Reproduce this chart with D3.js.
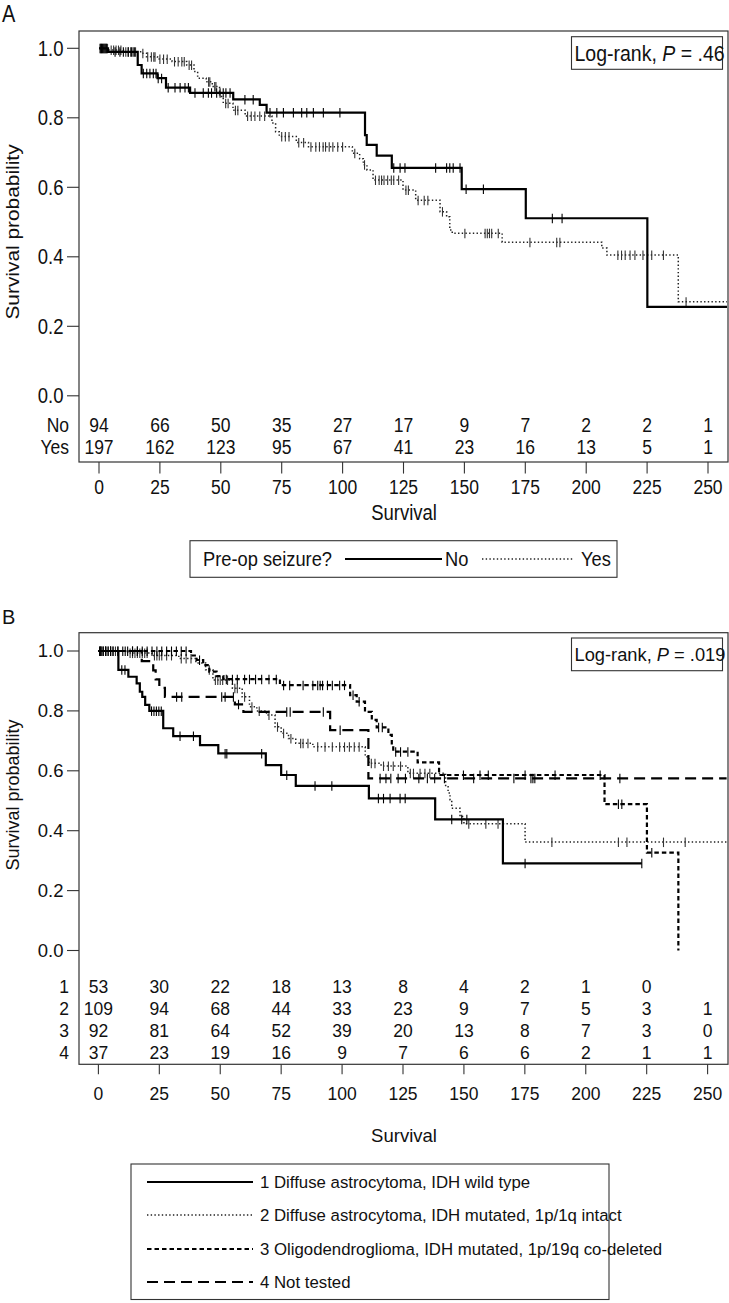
<!DOCTYPE html>
<html><head><meta charset="utf-8">
<script src="https://cdn.jsdelivr.net/npm/d3@7"></script>
<style>body{margin:0;background:#fff;} text{font-family:"Liberation Sans",Arial,sans-serif;fill:#111;}</style>
</head><body><div id="chart"></div>
<script>
// ---------- data ----------
const timeTicks = [0,25,50,75,100,125,150,175,200,225,250];
const survTicks = [0,0.2,0.4,0.6,0.8,1.0];

// Panel A: pre-op seizure
const aNoTimes = [0,3.7,15.9,17.5,24.0,27.5,37.4,55.1,66.0,68.8,109.2,109.9,114.0,120.2,148.9,175.2,225.1];
const aNoSurv  = [1,0.99,0.952,0.928,0.914,0.887,0.872,0.853,0.837,0.815,0.750,0.722,0.691,0.656,0.595,0.511,0.256];
const aNoCens  = [0.5,1,1.5,2,2.5,3,6.6,8.6,10,12,13.4,14.5,18.2,19.6,20.9,22.3,23.4,24.3,25.7,28.4,31.2,33.3,35.3,36.7,39.4,42.8,44.9,46.2,48.3,49.7,51,52.1,53.8,59.9,63.3,70.2,73,75.7,79.8,83.2,85.3,88,92.1,98.9,121,123.6,125.6,138.2,142.7,144,145.4,148.2,150.7,157.8,186.1,190.1];
const aYesTimes = [0,4,10,17.5,19.5,24,30,36,39,40.5,44,46.5,49.5,51,55,60,71,72.5,74,81,86,104,107,108.5,110,112.5,124.8,130,140,142.7,144,145,165.5,206.4,208.5,237.8];
const aYesSurv  = [1,0.995,0.99,0.986,0.976,0.969,0.962,0.952,0.933,0.914,0.904,0.89,0.861,0.842,0.822,0.805,0.785,0.76,0.746,0.729,0.717,0.698,0.682,0.665,0.65,0.621,0.592,0.563,0.53,0.515,0.477,0.468,0.442,0.425,0.405,0.271];
const aYesCens  = [0.5,1,1.5,2,2.5,3,3.5,5,6,7,8,9,11,12,13,14,15,18,20,21.5,22.5,23,25,26.5,28,31,32.5,34,35,37,38,45,45.5,47.5,48,52,53,56,57,61,62.5,64,66,68,75,76.5,78,82,84,87,89,90.5,92,93,94.5,96,98,100,105,109,113.5,115,116,117,118.5,120,121,123,126,127,131,133.5,135,141,150.2,158.5,159.4,160.3,161.2,163.9,176.9,187.9,189.2,213,214.5,216,218,220,223.3,226.9,231.7,241];
const riskANo  = [94,66,50,35,27,17,9,7,2,2,1];
const riskAYes = [197,162,123,95,67,41,23,16,13,5,1];

// Panel B: molecular groups
const b1Times = [0,8.2,12.3,15.7,17,18,19.2,20.9,26.6,30.7,41.7,49.2,68.7,75,81,111,138.2,166];
const b1Surv  = [1,0.937,0.914,0.892,0.864,0.847,0.82,0.8,0.742,0.716,0.686,0.658,0.619,0.586,0.55,0.508,0.438,0.291];
const b1Cens  = [9.6,10.9,21.8,22.8,23.8,24.8,25.8,33.5,39,52,52.7,67,77.3,88.9,95.8,114.9,117,119.7,123.8,125.9,145,149.1,151.2,175.1,223];
const b2Times = [0,12,22,33,40,44,47,55,59,62,65,69,72.5,75,78,81,88,109.5,111,116,127,142.5,143.5,144.3,145,148.4,150,175.1];
const b2Surv  = [1,0.993,0.985,0.975,0.96,0.937,0.903,0.876,0.847,0.814,0.8,0.786,0.747,0.725,0.708,0.692,0.68,0.647,0.625,0.616,0.592,0.547,0.526,0.503,0.475,0.447,0.423,0.362];
const b2Cens  = [0.5,1,1.5,2,3,4,5,6,7,13,14,15,16,17,18,19,20,23,24,25,26,28,30,34,36,38,45.5,48,49,50,51,53,56,57,60,63,66,70,73.5,76,79,83,84,86,90,93,96,99,101,103,105,107,112,113.5,117,119,121,124,128,129.3,132,134,136,152,159,164,186.1,213.4,216.9,231.9,240.8];
const b3Times = [0,38,40.3,43,45.5,48.5,51.3,74.5,103.3,106,109.4,112.2,114.2,119,120.4,121,131,139.8,207.7,225.1,238];
const b3Surv  = [1,0.985,0.97,0.953,0.931,0.916,0.906,0.886,0.853,0.831,0.797,0.77,0.745,0.72,0.686,0.664,0.628,0.586,0.489,0.327,0];
const b3Cens  = [0.5,1,2,3,4,5,6,8,10,12,14,16,18,20,22,24,26,28,30,32,34,36,41.5,52.5,55,57,60,62,64.5,67,70,73,76,78.5,84,88,90,91,92,94,96,99,101,104.5,107,115,116.5,122,124,127,149.8,156.6,160,175.1,187.4,205.9,213.4,214.8,227.1];
const b4Times = [0,17.8,22.5,23.5,25,27.3,56,59.5,95.1,110.8];
const b4Surv  = [1,0.966,0.935,0.905,0.877,0.847,0.822,0.797,0.736,0.575];
const b4Cens  = [1,3,5,8,11,14,16,32.1,34.2,50.6,52,55.4,57.5,77.3,78.7,92.3,99.2,115.6,118,120,123,126,131.5,135,138,142,154,170.5,177.5,178.3,179.1,214];
const riskB1 = [53,30,22,18,13,8,4,2,1,0];
const riskB2 = [109,94,68,44,33,23,9,7,5,3,1];
const riskB3 = [92,81,64,52,39,20,13,8,7,3,0];
const riskB4 = [37,23,19,16,9,7,6,6,2,1,1];
const legendB = ["1 Diffuse astrocytoma, IDH wild type",
                 "2 Diffuse astrocytoma, IDH mutated, 1p/1q intact",
                 "3 Oligodendroglioma, IDH mutated, 1p/19q co-deleted",
                 "4 Not tested"];

// ---------- drawing ----------
const W = 729, H = 1303;
const svg = d3.select("#chart").append("svg").attr("width", W).attr("height", H);
const x = d3.scaleLinear().domain([0,250]).range([99,708]);
const xB = d3.scaleLinear().domain([0,250]).range([98.4,707.6]);
const tMax = 257.8;

const styles = {
  solid:  {w:2.2, dash:null, col:"#000"},
  dotted: {w:1.5, dash:"1.4,2.3", col:"#222"},
  short:  {w:2.2, dash:"4.5,3", col:"#000"},
  long:   {w:2.2, dash:"11,6", col:"#000"}
};

function txt(g, px, py, s, o) {
  o = o || {};
  const sx = o.sx || 1, sy = o.sy || 1, rot = o.rot || 0;
  let tr = `translate(${px},${py})`;
  if (rot) tr += ` rotate(${rot})`;
  tr += ` scale(${sx},${sy})`;
  const t = g.append("text").attr("transform", tr)
    .attr("dy", "0.35em")
    .attr("text-anchor", o.anchor || "start")
    .style("font-size", (o.size || 17) + "px");
  if (o.html) t.html(s); else t.text(s);
  return t;
}

function survAt(times, surv, t) {
  let s = surv[0];
  for (let i = 0; i < times.length; i++) { if (times[i] <= t) s = surv[i]; }
  return s;
}

function drawCurve(g, xs, ys, times, surv, cens, tEnd, st) {
  const pts = times.map((t,i) => [t, surv[i]]);
  if (tEnd > times[times.length-1]) pts.push([tEnd, surv[surv.length-1]]);
  const line = d3.line().x(d => xs(d[0])).y(d => ys(d[1])).curve(d3.curveStepAfter);
  g.append("path").attr("d", line(pts)).attr("fill","none")
    .attr("stroke", st.col).attr("stroke-width", st.w)
    .attr("stroke-dasharray", st.dash);
  g.selectAll(null).data(cens).enter().append("line")
    .attr("x1", d => xs(d)).attr("x2", d => xs(d))
    .attr("y1", d => ys(survAt(times, surv, d)) - 4.5)
    .attr("y2", d => ys(survAt(times, surv, d)) + 5)
    .attr("stroke", st === styles.dotted ? "#333" : "#000").attr("stroke-width", 1.1);
}

function panel(cfg) {
  const g = svg.append("g");
  const y = d3.scaleLinear().domain([0,1]).range([cfg.y0, cfg.y1]);
  const xs = cfg.xs;
  const sy = cfg.sy;
  g.append("rect").attr("x", 79).attr("y", cfg.top).attr("width", 649).attr("height", cfg.bottom - cfg.top)
    .attr("fill","none").attr("stroke","#333").attr("stroke-width",1.2);
  g.selectAll(null).data(survTicks).enter().append("line")
    .attr("x1", 67).attr("x2", 79).attr("y1", d => y(d)).attr("y2", d => y(d))
    .attr("stroke","#333").attr("stroke-width",1.1);
  survTicks.forEach(v => txt(g, 63.5, y(v), d3.format(".1f")(v), {anchor:"end", size:18.5, sy:sy}));
  g.selectAll(null).data(timeTicks).enter().append("line")
    .attr("x1", d => xs(d)).attr("x2", d => xs(d))
    .attr("y1", cfg.bottom).attr("y2", cfg.bottom + 10*sy)
    .attr("stroke","#333").attr("stroke-width",1.1);
  timeTicks.forEach(v => txt(g, xs(v), cfg.tickLabY, String(v), {anchor:"middle", size:17.5, sy:sy}));
  txt(g, 404, cfg.xTitleY, "Survival", {anchor:"middle", size:18.5, sy:sy});
  txt(g, 13, cfg.yTitleY, "Survival probability", {anchor:"middle", size:18, rot:-90, sx:sy});
  txt(g, 2, cfg.letterY, cfg.letter, {size:20, sy:sy});
  cfg.risk.forEach((r, i) => {
    txt(g, 69, cfg.riskY[i], r.label, {anchor:"end", size:17.5, sy:sy});
    r.vals.forEach((v, j) => txt(g, xs(timeTicks[j]), cfg.riskY[i], String(v), {anchor:"middle", size:17.5, sy:sy}));
  });
  g.append("rect").attr("x", 571.5).attr("y", cfg.lrTop).attr("width", 151).attr("height", cfg.lrH)
    .attr("fill","#fff").attr("stroke","#333").attr("stroke-width",1.1);
  txt(g, 574.5, cfg.lrTop + cfg.lrH/2, `Log-rank, <tspan font-style="italic">P</tspan> = ${cfg.p}`, {size:cfg.lrSize, sy:sy, html:true});
  cfg.curves.forEach(c => drawCurve(g, xs, y, c.times, c.surv, c.cens, c.end, c.style));
  return g;
}

panel({
  xs: x, y0: 395.8, y1: 48.3, top: 31, bottom: 462, sy: 1.16,
  tickLabY: 486.7, xTitleY: 512, yTitleY: 232, letter: "A", letterY: 14,
  riskY: [425, 447],
  risk: [{label:"No", vals:riskANo}, {label:"Yes", vals:riskAYes}],
  lrTop: 36.7, lrH: 32.6, p: ".46", lrSize: 19.5,
  curves: [
    {times:aYesTimes, surv:aYesSurv, cens:aYesCens, end:tMax, style:styles.dotted},
    {times:aNoTimes, surv:aNoSurv, cens:aNoCens, end:tMax, style:styles.solid}
  ]
});

panel({
  xs: xB, y0: 950.5, y1: 651, top: 632.7, bottom: 1064.3, sy: 1,
  tickLabY: 1094, xTitleY: 1136, yTitleY: 795, letter: "B", letterY: 617,
  riskY: [987, 1009, 1031, 1053],
  risk: [{label:"1", vals:riskB1}, {label:"2", vals:riskB2}, {label:"3", vals:riskB3}, {label:"4", vals:riskB4}],
  lrTop: 638, lrH: 32.7, p: ".019", lrSize: 18.3,
  curves: [
    {times:b2Times, surv:b2Surv, cens:b2Cens, end:tMax, style:styles.dotted},
    {times:b4Times, surv:b4Surv, cens:b4Cens, end:tMax, style:styles.long},
    {times:b3Times, surv:b3Surv, cens:b3Cens, end:238, style:styles.short},
    {times:b1Times, surv:b1Surv, cens:b1Cens, end:223, style:styles.solid}
  ]
});

// Legend A
const lgA = svg.append("g");
lgA.append("rect").attr("x",190).attr("y",540.7).attr("width",427).attr("height",36.6)
  .attr("fill","none").attr("stroke","#333").attr("stroke-width",1.1);
txt(lgA, 203, 559, "Pre-op seizure?", {size:18.3, sy:1.12});
lgA.append("line").attr("x1",345).attr("x2",442).attr("y1",559).attr("y2",559)
  .attr("stroke",styles.solid.col).attr("stroke-width",styles.solid.w);
txt(lgA, 445, 559, "No", {size:18.3, sy:1.12});
lgA.append("line").attr("x1",482).attr("x2",573).attr("y1",559).attr("y2",559)
  .attr("stroke",styles.dotted.col).attr("stroke-width",styles.dotted.w).attr("stroke-dasharray",styles.dotted.dash);
txt(lgA, 581, 559, "Yes", {size:18.3, sy:1.12});

// Legend B
const lgB = svg.append("g");
lgB.append("rect").attr("x",131).attr("y",1164).attr("width",478).attr("height",135.5)
  .attr("fill","none").attr("stroke","#333").attr("stroke-width",1.1);
const lgStyles = [styles.solid, styles.dotted, styles.short, styles.long];
const lgY = [1182, 1215, 1249, 1282];
legendB.forEach((lab, i) => {
  const st = lgStyles[i];
  lgB.append("line").attr("x1",147).attr("x2",253).attr("y1",lgY[i]).attr("y2",lgY[i])
    .attr("stroke",st.col).attr("stroke-width",st.w).attr("stroke-dasharray",st.dash);
  txt(lgB, 260, lgY[i], lab, {size:16.8});
});
</script></body></html>
